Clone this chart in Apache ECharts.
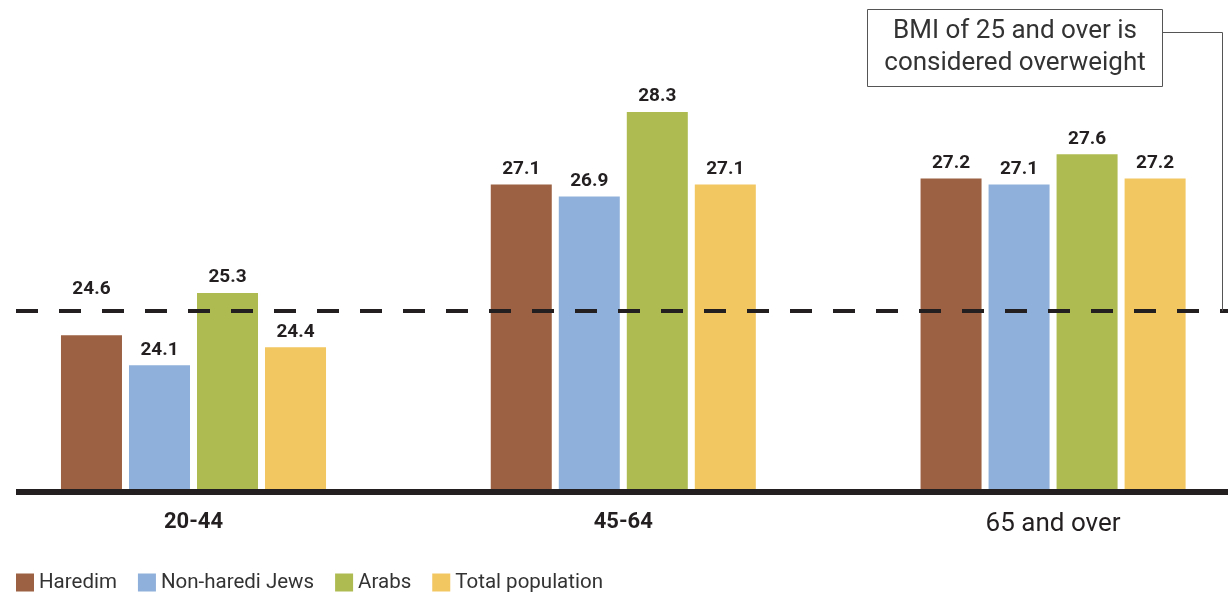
<!DOCTYPE html>
<html>
<head>
<meta charset="utf-8">
<script src="https://cdn.jsdelivr.net/npm/echarts@6/dist/echarts.min.js"></script>
<style>
html,body{margin:0;padding:0;background:#fff;}
#chart{width:1228px;height:592px;}
</style>
</head>
<body>
<div id="chart"></div>
<script>
const categories = ['20-44', '45-64', '65 and over'];
const seriesNames = ['Haredim', 'Non-haredi Jews', 'Arabs', 'Total population'];
const haredim = [24.6, 27.1, 27.2];
const nonHarediJews = [24.1, 26.9, 27.1];
const arabs = [25.3, 28.3, 27.6];
const totalPopulation = [24.4, 27.1, 27.2];
const threshold = 25;
const annotationText = 'BMI of 25 and over is\nconsidered overweight';

const colors = ['#9C6143', '#8FB0DA', '#AEBB50', '#F2C660'];
const values = [haredim, nonHarediJews, arabs, totalPopulation];
const catIdx = categories.map((c, i) => i);

const chart = echarts.init(document.getElementById('chart'));

const labelBase = {
  show: true,
  position: 'top',
  distance: 6,
  fontFamily: 'Roboto',
  fontWeight: 'bold',
  fontSize: 19,
  color: '#231f20',
  formatter: p => p.value[1].toFixed(1)
};

const series = values.map((arr, i) => ({
  name: seriesNames[i],
  type: 'bar',
  barWidth: 61,
  barGap: '11.5%',
  itemStyle: { color: colors[i] },
  label: labelBase,
  data: arr.map((v, j) => {
    // first bar label sits above the threshold line in the reference
    if (i === 0 && j === 0) return { value: [catIdx[j], v], label: { offset: [0, -30] } };
    return [catIdx[j], v];
  })
}));

chart.setOption({
  animation: false,
  grid: { left: 16, right: 0, top: 9.6, bottom: 100, containLabel: false },
  legend: {
    left: 11,
    top: 567,
    itemWidth: 18,
    itemHeight: 18,
    itemGap: 21,
    icon: 'rect',
    textStyle: { fontFamily: 'Roboto', fontSize: 20.5, color: '#333' },
    data: seriesNames
  },
  xAxis: {
    type: 'value',
    min: -0.413,
    max: 2.407,
    axisLine: { show: false },
    axisTick: { show: false },
    splitLine: { show: false },
    axisLabel: {
      customValues: catIdx,
      margin: 19,
      fontSize: 22,
      formatter: v => {
        const c = categories[Math.round(v)];
        return c === '65 and over' ? '{b|' + c + '}' : '{a|' + c + '}';
      },
      rich: {
        a: { fontFamily: 'Roboto', fontWeight: 'bold', fontSize: 22, color: '#231f20' },
        b: { fontFamily: 'Roboto', fontWeight: 'normal', fontSize: 26, color: '#231f20' }
      }
    }
  },
  yAxis: {
    type: 'value',
    min: 22,
    max: 30,
    show: false,
    splitLine: { show: false }
  },
  series
});

function drawDecor() {
  const yThr = chart.convertToPixel({ yAxisIndex: 0 }, threshold);
  const yBase = chart.convertToPixel({ yAxisIndex: 0 }, 22);
  chart.setOption({
    graphic: [
      {
        type: 'line', z: 10,
        shape: { x1: 16, y1: yThr, x2: 1228, y2: yThr },
        style: { stroke: '#231f20', lineWidth: 4, lineDash: [22, 21] }
      },
      {
        type: 'line', z: 10,
        shape: { x1: 16, y1: yBase, x2: 1228, y2: yBase },
        style: { stroke: '#231f20', lineWidth: 6 }
      },
      {
        type: 'rect', z: 10,
        shape: { x: 867.5, y: 9.5, width: 295, height: 77 },
        style: { fill: '#fff', stroke: '#555', lineWidth: 1 }
      },
      {
        type: 'text', z: 11,
        x: 1015, y: 47,
        style: {
          text: annotationText,
          fontFamily: 'Roboto', fontSize: 26, fill: '#333',
          align: 'center', verticalAlign: 'middle', lineHeight: 32
        }
      },
      {
        type: 'polyline', z: 10,
        shape: { points: [[1163, 32.5], [1222.5, 32.5], [1222.5, yThr]] },
        style: { stroke: '#555', lineWidth: 1, fill: null }
      }
    ]
  });
}
drawDecor();
</script>
</body>
</html>
